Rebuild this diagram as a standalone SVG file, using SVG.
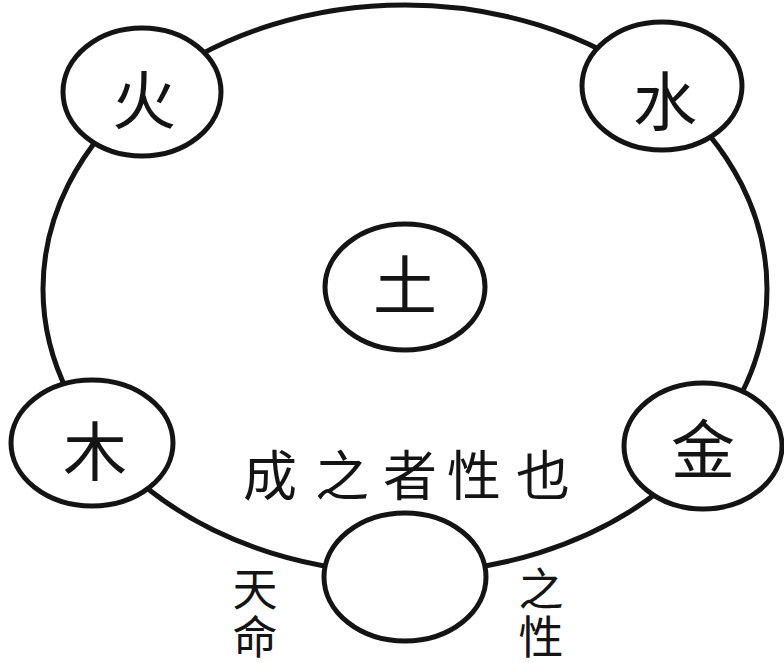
<svg xmlns="http://www.w3.org/2000/svg" width="784" height="663" viewBox="0 0 784 663">
<style>
.ring{fill:none;stroke:#141414;stroke-width:5}
.node{fill:#fff;stroke:#141414;stroke-width:5}
.ch{font-family:"Noto Sans CJK SC","Noto Sans CJK TC",sans-serif;fill:#141414;text-anchor:middle;dominant-baseline:central}
.big{font-size:64px}
.lab{font-size:54px}
.vert{font-family:"Noto Sans CJK SC","Noto Sans CJK TC",sans-serif;fill:#141414;font-size:45px;writing-mode:vertical-rl;text-orientation:upright;letter-spacing:3px}
</style>
<rect width="784" height="663" fill="#fff"/>
<g id="connectors">
<ellipse class="ring" cx="405" cy="289" rx="362" ry="284"/>
</g>
<g id="node-fire">
<ellipse class="node" cx="142" cy="92" rx="79" ry="64"/>
<text class="ch big" x="144" y="96">火</text>
</g>
<g id="node-water">
<ellipse class="node" cx="662" cy="86" rx="80" ry="64"/>
<text class="ch big" x="665" y="97">水</text>
</g>
<g id="node-earth">
<ellipse class="node" cx="405" cy="287" rx="80" ry="63"/>
<text class="ch big" x="405" y="281">土</text>
</g>
<g id="node-wood">
<ellipse class="node" cx="92" cy="443" rx="81" ry="63"/>
<text class="ch big" x="95" y="447">木</text>
</g>
<g id="node-metal">
<ellipse class="node" cx="703" cy="446" rx="79" ry="63"/>
<text class="ch big" x="703" y="445">金</text>
</g>
<g id="node-bottom">
<ellipse class="node" cx="405" cy="577" rx="81" ry="64"/>
</g>
<g id="label-main">
<text class="ch lab" y="472"><tspan x="270">成</tspan><tspan x="342">之</tspan><tspan x="410">者</tspan><tspan x="474">性</tspan><tspan x="543">也</tspan></text>
</g>
<g id="label-left">
<text class="vert" x="255" y="566">天命</text>
</g>
<g id="label-right">
<text class="vert" x="541" y="566">之性</text>
</g>
</svg>
